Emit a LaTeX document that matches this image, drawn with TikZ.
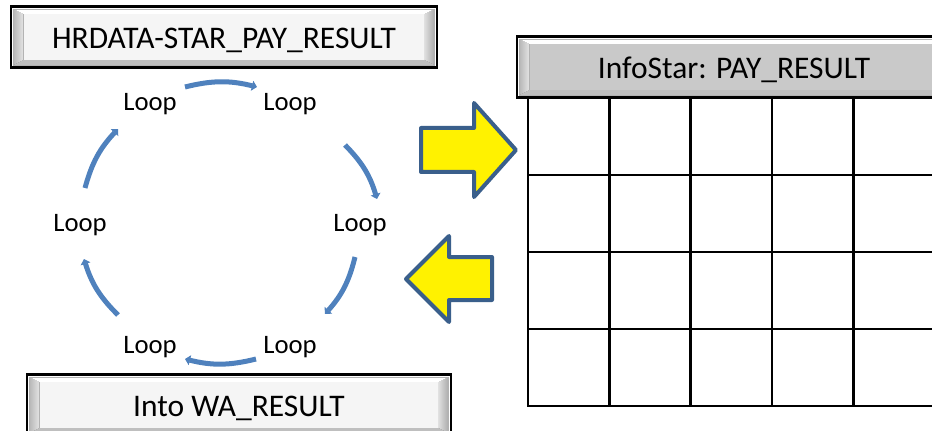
\documentclass[tikz,border=0pt]{standalone}
\usepackage{fontspec}
\setmainfont{Carlito}
\usetikzlibrary{arrows.meta}
\definecolor{cycblue}{HTML}{4F81BD}
\definecolor{arrowrim}{HTML}{3A5F8B}
\pgfdeclarelayer{background}
\pgfsetlayers{background,main}
\tikzset{
  btn/.style = {draw=black, line width=2pt, minimum height=46pt, inner sep=0pt,
    font=\fontsize{23.6}{27}\selectfont, text height=17.4pt, text depth=0pt},% framed button
  loop_n/.style = {font=\fontsize{20}{24}\selectfont, inner sep=0pt},% cycle step
  cyc/.style = {cycblue, line width=3.75pt, bend left=14,
    -{Triangle[length=3.8pt,width=7.5pt]}},% cycle arc
  fat_arrow/.style = {draw=arrowrim, fill=yellow, line width=3pt, line join=round},
  tbl/.style = {line width=2pt}% table grid
}
% bevel behind a framed button: #1 node name, #2 face colour
\newcommand\bevel[2]{%
  \begin{pgfonlayer}{background}
    \coordinate (A) at ([shift={(4,-4)}]#1.north west);
    \coordinate (B) at ([shift={(-4,-4)}]#1.north east);
    \coordinate (C) at ([shift={(-4,4)}]#1.south east);
    \coordinate (D) at ([shift={(4,4)}]#1.south west);
    \coordinate (a) at ([shift={(10,-5)}]A);
    \coordinate (b) at ([shift={(-10,-5)}]B);
    \coordinate (c) at ([shift={(-10,5)}]C);
    \coordinate (d) at ([shift={(10,5)}]D);
    \fill[left color=gray!55, right color=gray!20] (A) -- (a) -- (d) -- (D) -- cycle;
    \fill[left color=gray!25, right color=gray!65] (B) -- (b) -- (c) -- (C) -- cycle;
    \fill[white] (A) -- (B) -- (b) -- (a) -- cycle;
    \fill[gray!50] (D) -- (C) -- (c) -- (d) -- cycle;
    \fill[#2] (a) rectangle (c);
    \draw[gray!60, line width=0.5pt] (A) rectangle (C);
  \end{pgfonlayer}}

\begin{document}
\begin{tikzpicture}[x=0.75pt, y=0.75pt]
  \useasboundingbox (0,0) rectangle (932,-431);

  % buttons
  \node [btn, minimum width=319.5pt] (hrdata) at (224,-37) {HRDATA-STAR\_PAY\_RESULT};
  \bevel{hrdata}{gray!8}
  \node [btn, minimum width=325.5pt] (info) at (734,-67) {InfoStar: PAY\_RESULT};
  \bevel{info}{gray!42}
  \node [btn, minimum width=318pt] (wares) at (239,-405) {Into WA\_RESULT};
  \bevel{wares}{gray!8}

  % cycle
  \foreach \a/\n in {120/1, 60/2, 0/3, -60/4, -120/5, 180/6}
    \node [loop_n] (l\n) at ([shift={(\a:140)}] 220,-225.5) {Loop};
  \foreach \ax/\ay/\bx/\by in {185/87/257/87, 345/145/377/199, 355/257/325/314,
      256/359/185/359, 118/315/84/259, 85/188/118/129}
    \draw [cyc] (\ax,-\ay) to (\bx,-\by);

  % transfer arrows
  \draw [fat_arrow] (421,-128) -- (474,-128) -- (474,-103) -- (516,-150)
    -- (474,-197) -- (474,-172) -- (421,-172) -- cycle;
  \draw [fat_arrow] (492,-257) -- (449,-257) -- (449,-236) -- (406,-279)
    -- (449,-322) -- (449,-300) -- (492,-300) -- cycle;

  % table
  \foreach \i in {0,...,4}
    \draw [tbl] ({528+81.3*\i},-97) -- ({528+81.3*\i},-406);
  \foreach \y in {175,252,329,406}
    \draw [tbl] (527,-\y) -- (940,-\y);
\end{tikzpicture}
\end{document}
